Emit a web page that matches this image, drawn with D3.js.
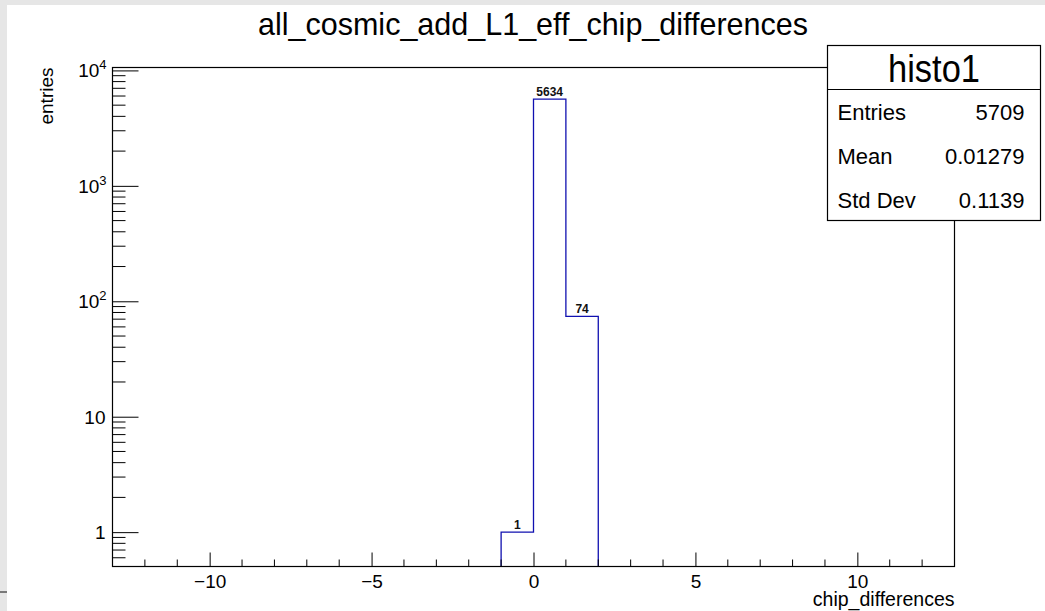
<!DOCTYPE html>
<html>
<head>
<meta charset="utf-8">
<script src="https://cdn.jsdelivr.net/npm/d3@7"></script>
<style>
body{margin:0;background:#fff;}
svg{display:block;font-family:"Liberation Sans",Arial,Helvetica,sans-serif;}
</style>
</head>
<body>
<svg id="chart" width="1045" height="611"></svg>
<script>
// histogram bins (low edge, high edge, content) - only filled bins
const binLow=[-1,0,1];
const binHigh=[0,1,2];
const counts=[1,5634,74];
const xTicks=[-10,-5,0,5,10];
const yTicks=[1,10,100,1000,10000];
const statNames=["Entries","Mean","Std Dev"];
const statValues=["5709","0.01279","0.1139"];

window.onload=function(){
	const svg=d3.select("#chart");
	const left=112.5,right=954.5,top=67.5,bottom=566.5;

	// window border bits
	svg.append("rect").attr("x",0).attr("y",0).attr("width",1045).attr("height",5).style("fill","#e6e6e6");
	svg.append("rect").attr("x",0).attr("y",0).attr("width",7).attr("height",611).style("fill","#e6e6e6");
	svg.append("line").attr("x1",0).attr("x2",7).attr("y1",592).attr("y2",592).style("stroke","#555").style("stroke-width",1.5);

	const x=d3.scaleLinear().domain([-13,13]).range([left,right]);
	const y=d3.scaleLog().domain([0.504,10600]).range([bottom,top]);

	// histogram outline
	const pts=[];
	binLow.forEach(function(lo,i){
		if(i===0) pts.push([x(lo),y.range()[0]]);
		pts.push([x(lo),y(counts[i])]);
		pts.push([x(binHigh[i]),y(counts[i])]);
		if(i===binLow.length-1) pts.push([x(binHigh[i]),y.range()[0]]);
	});
	svg.append("path").attr("d",d3.line()(pts))
		.style("fill","none").style("stroke","#1010b0").style("stroke-width",1.3);

	// bin content labels
	svg.append("g").selectAll("text").data(counts).enter().append("text")
		.attr("x",function(d,i){return x((binLow[i]+binHigh[i])/2);})
		.attr("y",function(d){return y(d)-3;})
		.attr("text-anchor","middle")
		.style("font-size","12px").style("font-weight","bold").style("fill","#111")
		.text(function(d){return d;});

	// frame
	svg.append("rect").attr("x",left).attr("y",top).attr("width",right-left).attr("height",bottom-top)
		.style("fill","none").style("stroke","#000").style("stroke-width",1.2);

	// x axis
	const xAxis=d3.axisBottom(x).tickValues(xTicks).tickSize(-14).tickSizeOuter(0)
		.tickFormat(function(d){return d<0?"\u2212"+Math.abs(d):d;});
	const gx=svg.append("g").attr("transform","translate(0,"+bottom+")").call(xAxis);
	gx.select(".domain").remove();
	gx.selectAll(".tick text").attr("y",4.5).style("font-size","19px").attr("dy","0.9em");
	const xMinor=d3.range(-12,13).filter(function(v){return v%5!==0;});
	svg.append("g").selectAll("line").data(xMinor).enter().append("line")
		.attr("x1",function(d){return x(d);}).attr("x2",function(d){return x(d);})
		.attr("y1",bottom).attr("y2",bottom-7).style("stroke","#000");

	// y axis
	const yAxis=d3.axisLeft(y).tickValues(yTicks).tickSize(-26).tickSizeOuter(0).tickFormat("");
	const gy=svg.append("g").attr("transform","translate("+left+",0)").call(yAxis);
	gy.select(".domain").remove();
	const yMinor=[];
	[0.1,1,10,100,1000].forEach(function(dec){
		for(let k=2;k<=9;k++){const v=dec*k;if(v>=y.domain()[0]&&v<=y.domain()[1]) yMinor.push(v);}
	});
	svg.append("g").selectAll("line").data(yMinor).enter().append("line")
		.attr("x1",left).attr("x2",left+13)
		.attr("y1",function(d){return y(d);}).attr("y2",function(d){return y(d);})
		.style("stroke","#000");
	const yl=svg.append("g").selectAll("text").data(yTicks).enter().append("text")
		.attr("x",left-7).attr("y",function(d){return y(d)+7;})
		.attr("text-anchor","end").style("font-size","19px").style("fill","#000");
	yl.each(function(d){
		const t=d3.select(this),e=Math.round(Math.log10(d));
		if(e<=1){t.text(d);}
		else{
			t.append("tspan").text("10");
			t.append("tspan").attr("dy",-8).style("font-size","13px").text(e);
		}
	});
	yl.filter(function(d){return d>10;}).attr("x",left-6);

	// axis titles
	svg.append("text").attr("transform","translate(53,"+top+") rotate(-90)")
		.attr("text-anchor","end").style("font-size","19px").text("entries");
	svg.append("text").attr("x",right).attr("y",606)
		.attr("text-anchor","end").style("font-size","19.5px").text("chip_differences");

	// title
	svg.append("text").attr("x",533).attr("y",35).attr("text-anchor","middle")
		.style("font-size","30.5px").text("all_cosmic_add_L1_eff_chip_differences");

	// stats box
	const bx=827.5,by=45.5,bw=213,bh=175,sep=89.5;
	const box=svg.append("g");
	box.append("rect").attr("x",bx).attr("y",by).attr("width",bw).attr("height",bh)
		.style("fill","#fff").style("stroke","#000").style("stroke-width",1.2);
	box.append("line").attr("x1",bx).attr("x2",bx+bw).attr("y1",sep).attr("y2",sep)
		.style("stroke","#000").style("stroke-width",1.2);
	box.append("text").attr("x",bx+bw/2).attr("y",82).attr("text-anchor","middle")
		.attr("textLength",92).attr("lengthAdjust","spacingAndGlyphs")
		.style("font-size","39px").text("histo1");
	const rowY=d3.scaleBand().domain(statNames).range([sep,by+bh]);
	box.selectAll(".sn").data(statNames).enter().append("text")
		.attr("x",bx+10).attr("y",function(d){return rowY(d)+rowY.bandwidth()/2+9;})
		.style("font-size","22px").text(function(d){return d;});
	box.selectAll(".sv").data(statValues).enter().append("text")
		.attr("x",bx+bw-16).attr("y",function(d,i){return rowY(statNames[i])+rowY.bandwidth()/2+9;})
		.attr("text-anchor","end").style("font-size","22px").text(function(d){return d;});
};
</script>
</body>
</html>
